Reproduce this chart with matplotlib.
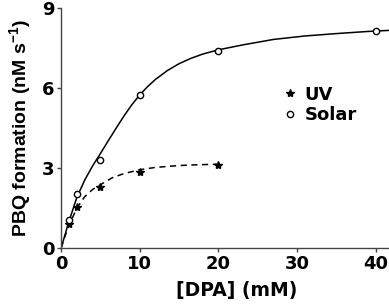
import matplotlib
matplotlib.use('Agg')
import matplotlib.pyplot as plt

plt.rcParams['font.family'] = 'DejaVu Sans'
plt.rcParams['font.weight'] = 'bold'
plt.rcParams['mathtext.fontset'] = 'custom'
plt.rcParams['mathtext.rm'] = 'Liberation Sans:bold'
plt.rcParams['mathtext.bf'] = 'Liberation Sans:bold'
plt.rcParams['mathtext.default'] = 'bf'

# measured points
uv_x = [1, 2, 5, 10, 20]
uv_y = [0.9, 1.54, 2.31, 2.84, 3.12]
solar_x = [1, 2, 5, 10, 20, 40]
solar_y = [1.05, 2.05, 3.29, 5.74, 7.40, 8.16]

# fitted curves
uv_fit_x = [0, 0.5, 1, 2, 3, 4, 5, 6.5, 8, 10, 12, 15, 17.5, 20]
uv_fit_y = [0, 0.45, 0.85, 1.5, 1.93, 2.2, 2.38, 2.64, 2.8, 2.94, 3.03, 3.1, 3.13, 3.15]
solar_fit_x = [0, 1, 2, 3, 4, 5, 6, 7, 8, 9, 10, 11, 12, 13.5, 15, 16.5, 18, 20,
               23, 27, 31, 35, 39, 41.7]
solar_fit_y = [0, 1.0, 1.9, 2.55, 3.08, 3.55, 4.03, 4.5, 4.96, 5.38, 5.75, 6.06, 6.33,
               6.66, 6.92, 7.12, 7.28, 7.44, 7.62, 7.83, 7.96, 8.05, 8.13, 8.17]

fig = plt.figure(figsize=(3.89, 3.06), dpi=100)
ax = fig.add_axes([0.157, 0.189, 0.843, 0.784])

ax.plot(solar_fit_x, solar_fit_y, '-', color='black', lw=1.1)
ax.plot(uv_fit_x, uv_fit_y, '--', color='black', lw=1.1, dashes=(4, 3))
ax.plot(uv_x, uv_y, '*', color='black', ms=6, ls='none', label='UV')
ax.plot(solar_x, solar_y, 'o', mfc='white', mec='black', mew=1, ms=4.5, ls='none', label='Solar')

ax.set_xlim(0, 41.7)
ax.set_ylim(0, 9)
ax.set_xticks([0, 10, 20, 30, 40])
ax.set_yticks([0, 3, 6, 9])
ax.spines['top'].set_visible(False)
ax.spines['right'].set_visible(False)
for s in ['left', 'bottom']:
    ax.spines[s].set_color('#444444')
    ax.spines[s].set_linewidth(1)
ax.tick_params(axis='both', labelsize=13, length=3, width=1, color='#444444', pad=2)
for lab in ax.get_xticklabels() + ax.get_yticklabels():
    lab.set_fontweight('bold')

ax.set_xlabel('[DPA] (mM)', fontsize=13.5, fontweight='bold')
ax.xaxis.set_label_coords(0.537, -0.136)
ax.set_ylabel('PBQ formation (nM s$^{-1}$)', fontsize=14, fontweight='bold',
              family='Liberation Sans')
ax.yaxis.set_label_coords(-0.085, 0.5)

ax.legend(loc='upper left', bbox_to_anchor=(0.648, 0.715), frameon=False,
          handlelength=0.8, handletextpad=0.4, borderpad=0, labelspacing=0.15,
          prop={'weight': 'bold', 'size': 13})

fig.savefig('out.png', dpi=100)
